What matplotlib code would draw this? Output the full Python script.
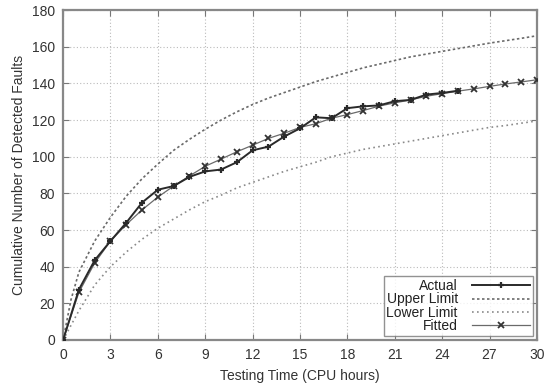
import numpy as np
import matplotlib
matplotlib.use("Agg")
import matplotlib.pyplot as plt

plt.rcParams['font.family'] = ['Liberation Sans', 'DejaVu Sans']

# observed faults per CPU hour
hours_actual = [0, 1, 2, 3, 4, 5, 6, 7, 8, 9, 10, 11, 12, 13, 14, 15, 16, 17, 18,
                19, 20, 21, 22, 23, 24, 25]
faults_actual = [0, 27.5, 43.5, 54, 64, 75, 82, 84, 89, 92, 93, 97, 103.5, 105.5,
                 111, 115.5, 121.5, 121, 126.5, 127.5, 128, 130.3, 131, 133.9, 134.8, 136]

hours_fit = list(range(0, 31))
faults_fit = [0, 26, 42, 54, 63, 71, 78, 84, 89.5, 94.8, 98.7, 102.7, 106.3, 110,
              112.8, 116, 118, 121, 123, 125.2, 127.6, 129.4, 131, 133, 134.4,
              135.8, 137, 138.4, 139.7, 140.8, 142]

hours_limit = [0, 0.5] + list(range(1, 31))
upper_limit = [0, 22, 37, 54, 67, 78.5, 88, 96, 103.5, 109.5, 115, 120, 124.5,
               128.5, 132, 135, 138, 141, 143.5, 146, 148.5, 150.5, 152.5, 154.5,
               156, 157.5, 159, 160.5, 162, 163.3, 164.6, 166]
lower_limit = [0, 8, 16, 30, 40, 48, 55, 61, 66, 71, 75.5, 79, 83, 86, 89, 92,
               94.5, 97, 100, 102, 104, 105.5, 107, 108.5, 110, 111.5, 113, 114.5,
               116, 117, 118.3, 119.5]

fig = plt.figure(figsize=(5.44, 3.89), dpi=100)
ax = fig.add_axes([0.116, 0.126, 0.871, 0.848])

ax.plot(hours_actual, faults_actual, color='#2a2a2a', lw=1.4, marker='+',
        ms=4, mew=1.6, label='Actual', zorder=4)
ax.plot(hours_limit, upper_limit, color='#6a6a6a', lw=1.2, ls=(0, (1.5, 1.5)),
        label='Upper Limit')
ax.plot(hours_limit, lower_limit, color='#8a8a8a', lw=1.2, ls=(0, (1, 2)),
        label='Lower Limit')
ax.plot(hours_fit, faults_fit, color='#6a6a6a', lw=0.9, marker='x', ms=4,
        mew=1.3, mec='#333333', label='Fitted', zorder=3)

ax.set_xlim(0, 30)
ax.set_ylim(0, 180)
ax.set_xticks(np.arange(0, 31, 3))
ax.set_yticks(np.arange(0, 181, 20))
ax.grid(True, color='#bbbbbb', ls=(0, (1, 2)), lw=0.8)
ax.tick_params(direction='in', top=True, right=True, length=4, color='#777777',
               labelsize=10, labelcolor='#333333', pad=6)
for s in ax.spines.values():
    s.set_color('#888888')
    s.set_linewidth(1.6)

ax.set_xlabel('Testing Time (CPU hours)', fontsize=10, color='#333333', labelpad=5)
ax.set_ylabel('Cumulative Number of Detected Faults', fontsize=10, color='#333333',
              labelpad=4)

leg = ax.legend(loc='lower right', markerfirst=False, fontsize=10, frameon=True,
                fancybox=False, edgecolor='#777777', handlelength=4.2,
                labelspacing=-0.05, borderpad=0.2, borderaxespad=0.3,
                handletextpad=1.0)
leg.get_frame().set_linewidth(1.0)
for t in leg.get_texts():
    t.set_color('#222222')

fig.savefig('out.png', dpi=100)
